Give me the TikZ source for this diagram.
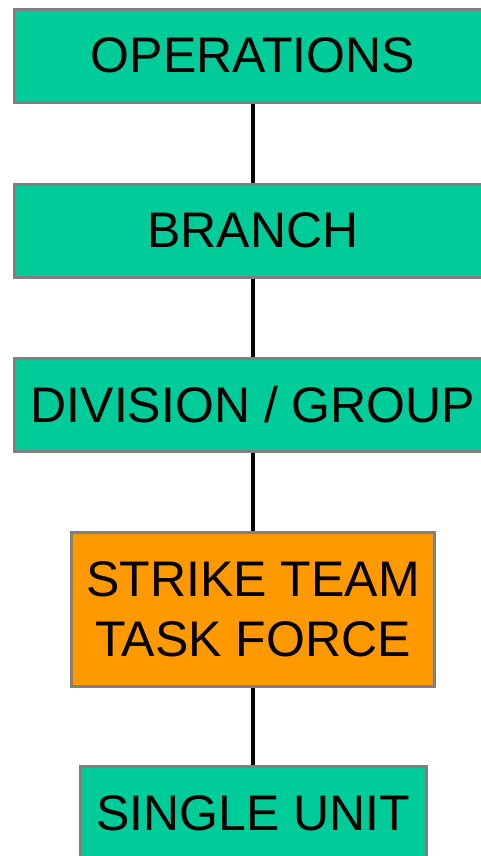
\documentclass[tikz,border=0pt]{standalone}
\usepackage{fontspec}
\setmainfont{Liberation Sans}
\definecolor{boxgreen}{HTML}{00CC99}
\definecolor{boxorange}{HTML}{FF9900}
\definecolor{boxedge}{HTML}{808080}
\begin{document}
\begin{tikzpicture}[x=1pt,y=-1pt,
  levelbox/.style={draw=boxedge, line width=3pt, fill=boxgreen, inner sep=0pt,
    minimum height=93pt, font=\fontsize{50}{60}\selectfont,
    text height=34pt, text depth=0pt},
  teambox/.style={levelbox, fill=boxorange, align=center,
    text height=, text depth=},
  link/.style={draw=black, line width=3.5pt}]
  \useasboundingbox (0,0) rectangle (480,856);
  \node[levelbox, minimum width=477pt] (ops) at (253,56) {OPERATIONS};
  \node[levelbox, minimum width=477pt] (branch) at (253,230.5) {BRANCH};
  \node[levelbox, minimum width=477pt] (div) at (253,405) {DIVISION / GROUP};
  \node[teambox, minimum width=363pt, minimum height=154pt] (team) at (253,609.5)
    {STRIKE TEAM\\TASK FORCE};
  \node[levelbox, minimum width=346pt] (unit) at (253.5,813) {SINGLE UNIT};
  \draw[link] (ops.south) -- (branch.north);
  \draw[link] (branch.south) -- (div.north);
  \draw[link] (div.south) -- (team.north);
  \draw[link] (team.south) -- (team.south |- unit.north);
\end{tikzpicture}
\end{document}
